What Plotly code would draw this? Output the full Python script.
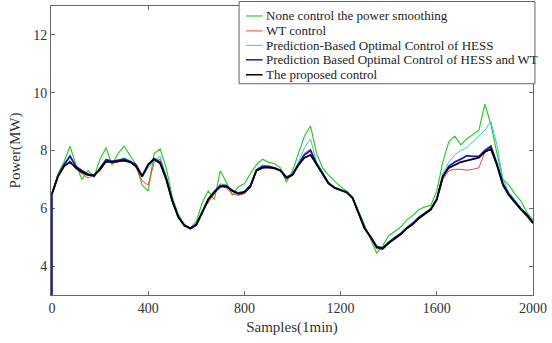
import plotly.graph_objects as go

samples = list(range(0, 2001, 25))

none_ctrl = [6.5, 7.2, 7.6, 8.15, 7.5, 7.0, 7.3, 7.1, 7.7, 8.1,
             7.5, 7.9, 8.15, 7.8, 7.5, 6.8, 6.6, 7.9, 8.05, 7.4,
             6.4, 5.8, 5.45, 5.3, 5.55, 6.2, 6.6, 6.3, 7.3, 6.9,
             6.45, 6.75, 6.85, 7.2, 7.5, 7.7, 7.6, 7.55, 7.4, 6.9,
             7.3, 7.9, 8.5, 8.85, 7.9, 7.4, 7.15, 6.95, 6.75, 6.6,
             6.4, 5.9, 5.4, 4.95, 4.45, 4.7, 5.05, 5.2, 5.35, 5.6,
             5.75, 5.95, 6.05, 6.1, 6.6, 7.6, 8.3, 8.5, 8.2, 8.4,
             8.55, 8.7, 9.6, 8.9, 7.9, 7.0, 6.8, 6.5, 6.25, 5.85, 5.6]

wt_ctrl = [6.5, 7.1, 7.45, 7.65, 7.35, 7.2, 7.05, 7.15, 7.3, 7.65,
           7.55, 7.6, 7.7, 7.6, 7.4, 6.95, 6.8, 7.6, 7.7, 7.1,
           6.25, 5.7, 5.4, 5.28, 5.4, 5.9, 6.2, 6.5, 6.8, 6.7,
           6.5, 6.45, 6.5, 6.75, 7.3, 7.45, 7.4, 7.38, 7.3, 7.0,
           7.15, 7.55, 7.9, 8.05, 7.55, 7.2, 6.85, 6.7, 6.62, 6.55,
           6.35, 5.8, 5.3, 5.0, 4.6, 4.58, 4.78, 4.95, 5.1, 5.3,
           5.45, 5.65, 5.8, 5.95, 6.3, 7.0, 7.3, 7.35, 7.35, 7.32,
           7.35, 7.4, 7.95, 8.05, 7.5, 6.8, 6.45, 6.2, 5.95, 5.7, 5.45]

hess_ctrl = [6.5, 7.15, 7.55, 7.8, 7.45, 7.25, 7.2, 7.15, 7.4, 7.7,
             7.65, 7.65, 7.75, 7.65, 7.5, 7.1, 7.4, 7.65, 7.8, 7.1,
             6.3, 5.72, 5.42, 5.32, 5.45, 5.9, 6.35, 6.6, 6.85, 6.8,
             6.62, 6.55, 6.6, 6.8, 7.35, 7.5, 7.45, 7.4, 7.32, 7.05,
             7.2, 7.6, 8.1, 8.4, 7.6, 7.25, 6.9, 6.72, 6.65, 6.55,
             6.38, 5.82, 5.32, 5.02, 4.65, 4.65, 4.85, 5.0, 5.15, 5.35,
             5.5, 5.7, 5.85, 6.0, 6.35, 7.2, 7.6, 7.85, 8.0, 8.1,
             8.3, 8.5, 8.7, 9.0, 8.2, 7.0, 6.55, 6.3, 6.0, 5.8, 5.55]

# blue series begins at 0 (vertical rise at sample 0)
hess_wt_x = [0] + samples
hess_wt_ctrl = [0.0, 6.5, 7.12, 7.5, 7.8, 7.45, 7.3, 7.18, 7.1, 7.4, 7.68,
                7.62, 7.65, 7.7, 7.62, 7.5, 7.12, 7.52, 7.72, 7.6, 7.05,
                6.28, 5.72, 5.42, 5.32, 5.45, 5.88, 6.32, 6.58, 6.78, 6.78,
                6.62, 6.52, 6.58, 6.78, 7.32, 7.45, 7.45, 7.4, 7.32, 7.08,
                7.18, 7.52, 7.85, 8.0, 7.55, 7.22, 6.88, 6.72, 6.64, 6.56,
                6.36, 5.82, 5.32, 5.02, 4.68, 4.62, 4.82, 4.98, 5.12, 5.32,
                5.48, 5.68, 5.82, 5.98, 6.32, 7.1, 7.45, 7.6, 7.7, 7.82,
                7.8, 7.8, 8.0, 8.15, 7.55, 6.85, 6.48, 6.22, 5.98, 5.78, 5.5]

proposed_ctrl = [6.5, 7.1, 7.45, 7.6, 7.4, 7.25, 7.15, 7.15, 7.35, 7.62,
                 7.6, 7.62, 7.65, 7.6, 7.45, 7.1, 7.5, 7.7, 7.55, 7.0,
                 6.25, 5.7, 5.4, 5.3, 5.42, 5.85, 6.3, 6.55, 6.75, 6.75,
                 6.6, 6.5, 6.55, 6.75, 7.3, 7.4, 7.42, 7.38, 7.3, 7.05,
                 7.15, 7.5, 7.75, 7.85, 7.5, 7.2, 6.85, 6.7, 6.62, 6.55,
                 6.35, 5.8, 5.3, 5.0, 4.65, 4.6, 4.8, 4.95, 5.1, 5.3,
                 5.45, 5.65, 5.8, 5.95, 6.3, 7.1, 7.4, 7.5, 7.6, 7.65,
                 7.7, 7.75, 7.95, 8.05, 7.5, 6.8, 6.45, 6.2, 5.95, 5.75, 5.5]

names = ["None control the power smoothing", "WT control",
         "Prediction-Based Optimal Control of HESS",
         "Prediction Based Optimal Control of HESS and WT",
         "The proposed control"]
xs = [samples, samples, samples, hess_wt_x, samples]
series = [none_ctrl, wt_ctrl, hess_ctrl, hess_wt_ctrl, proposed_ctrl]
colors = ["#2ecc2e", "#f04040", "#40bfe0", "#1a1aa8", "#000000"]
widths = [1.2, 1.0, 1.0, 1.8, 1.8]

fig = go.Figure()
for nm, xv, ys, c, w in zip(names, xs, series, colors, widths):
    fig.add_trace(go.Scatter(x=xv, y=ys, mode="lines", name=nm,
                             line=dict(color=c, width=w), showlegend=False))

W, H = 552, 343
ML, MR, MT, MB = 51, 9, 5, 48
PW, PH = W - ML - MR, H - MT - MB


def px(x):
    return (x - ML) / PW


def py(y):
    return (H - MB - y) / PH


font = "Liberation Serif, Times New Roman, serif"

# custom legend (compact, MATLAB-like)
shapes = [dict(type="rect", xref="paper", yref="paper", layer="above",
               x0=px(243), x1=px(545), y0=py(83), y1=py(0.5),
               line=dict(color="#666", width=1), fillcolor="white")]
annotations = []
row_y = [15, 30, 44.5, 59, 74]
for nm, c, w, ry in zip(names, colors, widths, row_y):
    shapes.append(dict(type="line", xref="paper", yref="paper", layer="above",
                       x0=px(250), x1=px(267), y0=py(ry), y1=py(ry),
                       line=dict(color=c, width=min(w, 1.5))))
    annotations.append(dict(xref="paper", yref="paper", x=px(268), y=py(ry),
                            xanchor="left", yanchor="middle", showarrow=False,
                            text=nm, font=dict(family=font, size=13, color="#222")))

axis_common = dict(showline=True, linecolor="#666", linewidth=1, mirror="ticks",
                   ticks="inside", ticklen=4, tickcolor="#666", showgrid=False,
                   zeroline=False, layer="below traces", ticklabeloverflow="allow",
                   tickfont=dict(family=font, size=14, color="#333"))
fig.update_layout(
    width=W, height=H,
    margin=dict(l=ML, r=MR, t=MT, b=MB),
    paper_bgcolor="white", plot_bgcolor="white",
    font=dict(family=font, size=12, color="#333"),
    xaxis=dict(range=[-4, 2000], tickvals=[0, 400, 800, 1200, 1600, 2000],
               title=dict(text="Samples(1min)", font=dict(family=font, size=15), standoff=6),
               **axis_common),
    yaxis=dict(range=[3, 13], tickvals=[4, 6, 8, 10, 12],
               title=dict(text="Power(MW)", font=dict(family=font, size=15), standoff=8),
               **axis_common),
    shapes=shapes, annotations=annotations,
    showlegend=False,
)

fig.write_html("out.html")
